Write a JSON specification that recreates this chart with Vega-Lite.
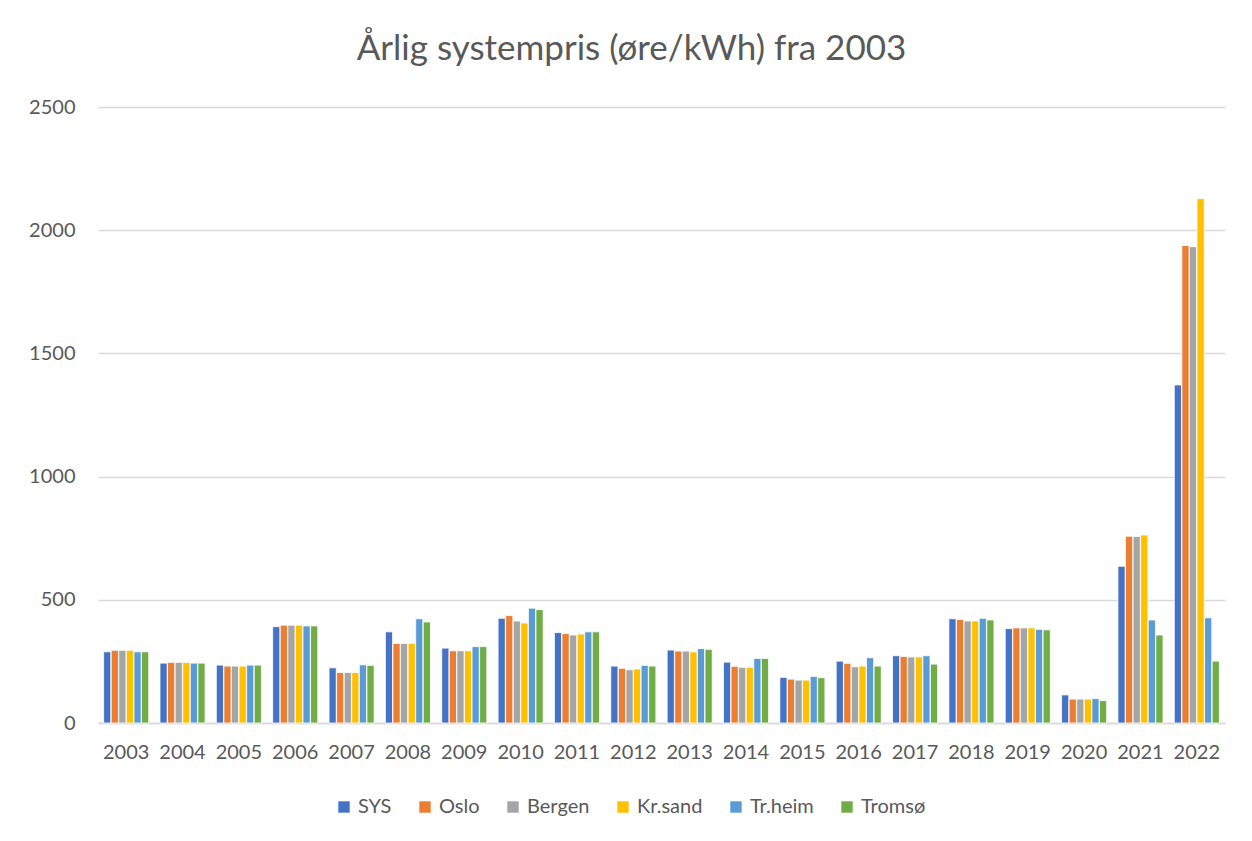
{
  "$schema": "https://vega.github.io/schema/vega-lite/v6.json",
  "width": 1127,
  "height": 616,
  "autosize": {"type": "none"},
  "padding": {"left": 98, "top": 107, "right": 27, "bottom": 118},
  "background": "white",
  "title": {
    "text": "Årlig systempris (øre/kWh) fra 2003",
    "anchor": "middle",
    "dx": -30,
    "offset": 30,
    "fontSize": 35,
    "font": "Lato",
    "fontWeight": "normal",
    "color": "#595959"
  },
  "data": {
    "values": [
      {"year": "2003", "area": "SYS", "value": 289}, {"year": "2003", "area": "Oslo", "value": 295}, {"year": "2003", "area": "Bergen", "value": 295}, {"year": "2003", "area": "Kr.sand", "value": 295}, {"year": "2003", "area": "Tr.heim", "value": 289}, {"year": "2003", "area": "Tromsø", "value": 289},
      {"year": "2004", "area": "SYS", "value": 243}, {"year": "2004", "area": "Oslo", "value": 246}, {"year": "2004", "area": "Bergen", "value": 246}, {"year": "2004", "area": "Kr.sand", "value": 246}, {"year": "2004", "area": "Tr.heim", "value": 243}, {"year": "2004", "area": "Tromsø", "value": 243},
      {"year": "2005", "area": "SYS", "value": 235}, {"year": "2005", "area": "Oslo", "value": 231}, {"year": "2005", "area": "Bergen", "value": 231}, {"year": "2005", "area": "Kr.sand", "value": 231}, {"year": "2005", "area": "Tr.heim", "value": 235}, {"year": "2005", "area": "Tromsø", "value": 235},
      {"year": "2006", "area": "SYS", "value": 391}, {"year": "2006", "area": "Oslo", "value": 397}, {"year": "2006", "area": "Bergen", "value": 397}, {"year": "2006", "area": "Kr.sand", "value": 397}, {"year": "2006", "area": "Tr.heim", "value": 394}, {"year": "2006", "area": "Tromsø", "value": 394},
      {"year": "2007", "area": "SYS", "value": 224}, {"year": "2007", "area": "Oslo", "value": 205}, {"year": "2007", "area": "Bergen", "value": 205}, {"year": "2007", "area": "Kr.sand", "value": 205}, {"year": "2007", "area": "Tr.heim", "value": 236}, {"year": "2007", "area": "Tromsø", "value": 234},
      {"year": "2008", "area": "SYS", "value": 370}, {"year": "2008", "area": "Oslo", "value": 323}, {"year": "2008", "area": "Bergen", "value": 323}, {"year": "2008", "area": "Kr.sand", "value": 323}, {"year": "2008", "area": "Tr.heim", "value": 423}, {"year": "2008", "area": "Tromsø", "value": 410},
      {"year": "2009", "area": "SYS", "value": 304}, {"year": "2009", "area": "Oslo", "value": 293}, {"year": "2009", "area": "Bergen", "value": 293}, {"year": "2009", "area": "Kr.sand", "value": 293}, {"year": "2009", "area": "Tr.heim", "value": 310}, {"year": "2009", "area": "Tromsø", "value": 310},
      {"year": "2010", "area": "SYS", "value": 425}, {"year": "2010", "area": "Oslo", "value": 436}, {"year": "2010", "area": "Bergen", "value": 414}, {"year": "2010", "area": "Kr.sand", "value": 406}, {"year": "2010", "area": "Tr.heim", "value": 466}, {"year": "2010", "area": "Tromsø", "value": 460},
      {"year": "2011", "area": "SYS", "value": 367}, {"year": "2011", "area": "Oslo", "value": 363}, {"year": "2011", "area": "Bergen", "value": 357}, {"year": "2011", "area": "Kr.sand", "value": 361}, {"year": "2011", "area": "Tr.heim", "value": 370}, {"year": "2011", "area": "Tromsø", "value": 370},
      {"year": "2012", "area": "SYS", "value": 231}, {"year": "2012", "area": "Oslo", "value": 222}, {"year": "2012", "area": "Bergen", "value": 216}, {"year": "2012", "area": "Kr.sand", "value": 219}, {"year": "2012", "area": "Tr.heim", "value": 234}, {"year": "2012", "area": "Tromsø", "value": 231},
      {"year": "2013", "area": "SYS", "value": 296}, {"year": "2013", "area": "Oslo", "value": 292}, {"year": "2013", "area": "Bergen", "value": 292}, {"year": "2013", "area": "Kr.sand", "value": 289}, {"year": "2013", "area": "Tr.heim", "value": 302}, {"year": "2013", "area": "Tromsø", "value": 299},
      {"year": "2014", "area": "SYS", "value": 247}, {"year": "2014", "area": "Oslo", "value": 230}, {"year": "2014", "area": "Bergen", "value": 226}, {"year": "2014", "area": "Kr.sand", "value": 226}, {"year": "2014", "area": "Tr.heim", "value": 262}, {"year": "2014", "area": "Tromsø", "value": 262},
      {"year": "2015", "area": "SYS", "value": 185}, {"year": "2015", "area": "Oslo", "value": 178}, {"year": "2015", "area": "Bergen", "value": 174}, {"year": "2015", "area": "Kr.sand", "value": 174}, {"year": "2015", "area": "Tr.heim", "value": 189}, {"year": "2015", "area": "Tromsø", "value": 184},
      {"year": "2016", "area": "SYS", "value": 251}, {"year": "2016", "area": "Oslo", "value": 242}, {"year": "2016", "area": "Bergen", "value": 228}, {"year": "2016", "area": "Kr.sand", "value": 231}, {"year": "2016", "area": "Tr.heim", "value": 265}, {"year": "2016", "area": "Tromsø", "value": 231},
      {"year": "2017", "area": "SYS", "value": 273}, {"year": "2017", "area": "Oslo", "value": 270}, {"year": "2017", "area": "Bergen", "value": 268}, {"year": "2017", "area": "Kr.sand", "value": 268}, {"year": "2017", "area": "Tr.heim", "value": 273}, {"year": "2017", "area": "Tromsø", "value": 239},
      {"year": "2018", "area": "SYS", "value": 423}, {"year": "2018", "area": "Oslo", "value": 420}, {"year": "2018", "area": "Bergen", "value": 414}, {"year": "2018", "area": "Kr.sand", "value": 414}, {"year": "2018", "area": "Tr.heim", "value": 425}, {"year": "2018", "area": "Tromsø", "value": 418},
      {"year": "2019", "area": "SYS", "value": 383}, {"year": "2019", "area": "Oslo", "value": 386}, {"year": "2019", "area": "Bergen", "value": 386}, {"year": "2019", "area": "Kr.sand", "value": 386}, {"year": "2019", "area": "Tr.heim", "value": 380}, {"year": "2019", "area": "Tromsø", "value": 378},
      {"year": "2020", "area": "SYS", "value": 114}, {"year": "2020", "area": "Oslo", "value": 97}, {"year": "2020", "area": "Bergen", "value": 97}, {"year": "2020", "area": "Kr.sand", "value": 97}, {"year": "2020", "area": "Tr.heim", "value": 99}, {"year": "2020", "area": "Tromsø", "value": 91},
      {"year": "2021", "area": "SYS", "value": 636}, {"year": "2021", "area": "Oslo", "value": 758}, {"year": "2021", "area": "Bergen", "value": 757}, {"year": "2021", "area": "Kr.sand", "value": 763}, {"year": "2021", "area": "Tr.heim", "value": 418}, {"year": "2021", "area": "Tromsø", "value": 357},
      {"year": "2022", "area": "SYS", "value": 1372}, {"year": "2022", "area": "Oslo", "value": 1938}, {"year": "2022", "area": "Bergen", "value": 1933}, {"year": "2022", "area": "Kr.sand", "value": 2128}, {"year": "2022", "area": "Tr.heim", "value": 427}, {"year": "2022", "area": "Tromsø", "value": 251}
    ]
  },
  "mark": {"type": "bar", "stroke": "white", "strokeWidth": 0.8},
  "encoding": {
    "x": {
      "field": "year",
      "type": "nominal",
      "scale": {"paddingInner": 0.2, "paddingOuter": 0.1},
      "axis": {
        "title": null,
        "labelAngle": 0,
        "ticks": false,
        "domainColor": "#d9d9d9",
        "domainWidth": 1.5,
        "labelPadding": 19,
        "labelFontSize": 20,
        "labelFont": "Lato",
        "labelColor": "#595959"
      }
    },
    "xOffset": {
      "field": "area",
      "type": "nominal",
      "sort": ["SYS", "Oslo", "Bergen", "Kr.sand", "Tr.heim", "Tromsø"],
      "scale": {"paddingInner": 0.05}
    },
    "y": {
      "field": "value",
      "type": "quantitative",
      "scale": {"domain": [0, 2500], "nice": false},
      "axis": {
        "title": null,
        "values": [0, 500, 1000, 1500, 2000, 2500],
        "format": "d",
        "domain": false,
        "ticks": false,
        "gridColor": "#d9d9d9",
        "gridWidth": 1.5,
        "labelPadding": 23,
        "labelFontSize": 20,
        "labelFont": "Lato",
        "labelColor": "#595959"
      }
    },
    "color": {
      "field": "area",
      "type": "nominal",
      "scale": {
        "domain": ["SYS", "Oslo", "Bergen", "Kr.sand", "Tr.heim", "Tromsø"],
        "range": ["#4472C4", "#ED7D31", "#A5A5A5", "#FFC000", "#5B9BD5", "#70AD47"]
      },
      "legend": {
        "title": null,
        "orient": "none",
        "direction": "horizontal",
        "legendX": 236,
        "legendY": 690,
        "symbolType": "square",
        "symbolSize": 130,
        "symbolStrokeWidth": 0,
        "labelFontSize": 20,
        "labelFont": "Lato",
        "labelColor": "#595959",
        "labelOffset": 4,
        "columnPadding": 23
      }
    }
  },
  "config": {"view": {"stroke": null}}
}
